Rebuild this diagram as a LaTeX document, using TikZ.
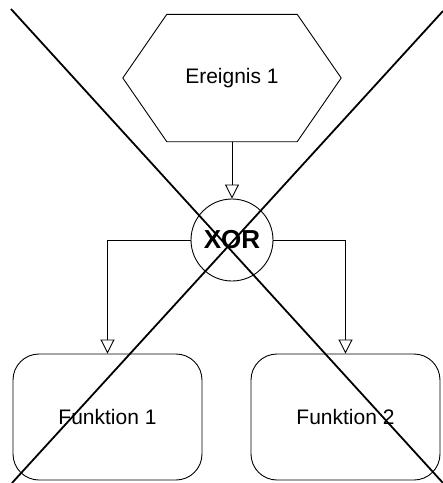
\documentclass[tikz,border=0pt]{standalone}
\usepackage{fontspec}
\setmainfont{Liberation Sans}
\usetikzlibrary{calc,arrows.meta}

\begin{document}
\begin{tikzpicture}[x=1pt,y=-1pt,
    txt/.style={font=\fontsize{21}{25}\selectfont},
    flow/.style={line width=0.9pt,-{Triangle[open,length=14pt,width=14pt]}},
    fkt/.style={draw,txt,line width=0.9pt,rounded corners=26pt,
      minimum width=189pt,minimum height=126pt},
    cross/.style={line width=1.8pt}]
    \useasboundingbox (0,0) rectangle (443,483);

    % Event (hexagon drawn round the node)
    \node[txt,inner sep=0pt,minimum width=218pt,minimum height=127pt]
      (Ereignis) at (232,78) {Ereignis 1};
    \draw[line width=0.9pt] (Ereignis.west)
      -- ($(Ereignis.north west)+(44,0)$) -- ($(Ereignis.north east)+(-44,0)$)
      -- (Ereignis.east)
      -- ($(Ereignis.south east)+(-44,0)$) -- ($(Ereignis.south west)+(44,0)$)
      -- cycle;

    % Connector
    \node[draw,circle,line width=0.9pt,minimum size=82pt,inner sep=0pt,
      font=\fontsize{26}{30}\selectfont\bfseries] (XOR) at (232,240) {XOR};

    % Functions
    \node[fkt] (FktOne) at (107.5,417) {Funktion 1};
    \node[fkt] (FktTwo) at (345.5,417) {Funktion 2};

    \draw[flow] (Ereignis.south) -- (XOR.north);
    \draw[flow] (XOR.west) -| (FktOne.north);
    \draw[flow] (XOR.east) -| (FktTwo.north);

    % Crossed out
    \coordinate (CrossTL) at (11,9);
    \coordinate (CrossBR) at (443,483);
    \coordinate (CrossTR) at (443,11);
    \coordinate (CrossBL) at (12,483);
    \draw[cross] (CrossTL) -- (CrossBR);
    \draw[cross] (CrossTR) -- (CrossBL);
\end{tikzpicture}
\end{document}
